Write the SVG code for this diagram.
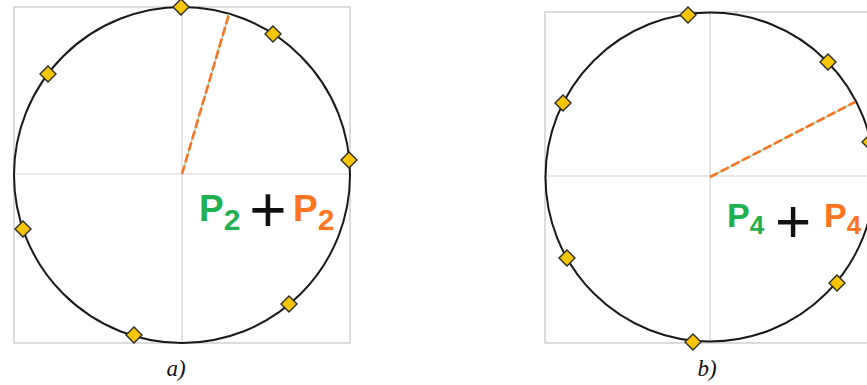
<svg xmlns="http://www.w3.org/2000/svg" width="867" height="385" viewBox="0 0 867 385">
<defs>
<style>
.frame{fill:none;stroke:#d0d0d0;stroke-width:1.5}
.axis{stroke:#d4d4d4;stroke-width:1.2}
.circ{fill:none;stroke:#1a1a1a;stroke-width:2}
.dia{fill:#f7c600;stroke:#2a2a2a;stroke-width:1.4}
.dashg{stroke:#8fd69a;stroke-width:1.2}
.dasho{stroke:#fa7320;stroke-width:2.6;stroke-dasharray:9 3}
.p{font-family:"Liberation Sans",Arial,sans-serif;font-weight:bold}
.plus{font-family:"Liberation Sans",Arial,sans-serif;font-weight:normal;fill:#111}
.g{fill:#1fb04f}
.o{fill:#ff7420}
.lbl{font-family:"Liberation Serif","Times New Roman",serif;font-style:italic;font-size:23px;fill:#111}
</style>
<path id="d" d="M0,-8 L8,0 L0,8 L-8,0 Z"/>
</defs>

<g id="panel-a">
<rect class="frame" x="14" y="7" width="336" height="336"/>
<line class="axis" x1="182" y1="7" x2="182" y2="343"/>
<line class="axis" x1="14" y1="174" x2="350" y2="174"/>
<circle class="circ" cx="182" cy="175" r="168"/>
<g id="vector-a">
<line class="dashg" x1="182" y1="174" x2="229" y2="14"/>
<line class="dasho" x1="182" y1="174" x2="229" y2="14"/>
</g>
<g id="points-a">
<use href="#d" class="dia" x="181" y="7"/>
<use href="#d" class="dia" x="273" y="34"/>
<use href="#d" class="dia" x="48" y="74"/>
<use href="#d" class="dia" x="349" y="160"/>
<use href="#d" class="dia" x="23" y="229"/>
<use href="#d" class="dia" x="289" y="304"/>
<use href="#d" class="dia" x="134" y="335"/>
</g>
<g id="formula-a">
<text class="p g" x="199" y="221" font-size="37">P<tspan font-size="30" dy="9">2</tspan></text>
<text class="plus" x="268" y="232" font-size="64" text-anchor="middle">+</text>
<text class="p o" x="293" y="221" font-size="37">P<tspan font-size="30" dy="9">2</tspan></text>
</g>
<text class="lbl" x="176" y="376" text-anchor="middle">a)</text>
</g>

<g id="panel-b">
<path class="frame" d="M868,12 H545 V343 H868"/>
<line class="axis" x1="710" y1="12" x2="710" y2="343"/>
<line class="axis" x1="545" y1="176" x2="867" y2="176"/>
<circle class="circ" cx="710" cy="177" r="164.5"/>
<g id="vector-b">
<line class="dashg" x1="710" y1="177" x2="855" y2="102"/>
<line class="dasho" x1="710" y1="177" x2="855" y2="102"/>
</g>
<g id="points-b">
<use href="#d" class="dia" x="688" y="15"/>
<use href="#d" class="dia" x="828" y="62"/>
<use href="#d" class="dia" x="563" y="103"/>
<use href="#d" class="dia" x="870" y="142"/>
<use href="#d" class="dia" x="567" y="258"/>
<use href="#d" class="dia" x="837" y="283"/>
<use href="#d" class="dia" x="693" y="342"/>
</g>
<g id="formula-b">
<text class="p g" x="727" y="227" font-size="34">P<tspan font-size="26" dy="7">4</tspan></text>
<text class="plus" x="793" y="242" font-size="62" text-anchor="middle">+</text>
<text class="p o" x="824" y="227" font-size="34">P<tspan font-size="26" dy="7">4</tspan></text>
</g>
<text class="lbl" x="707" y="376" text-anchor="middle">b)</text>
</g>
</svg>
